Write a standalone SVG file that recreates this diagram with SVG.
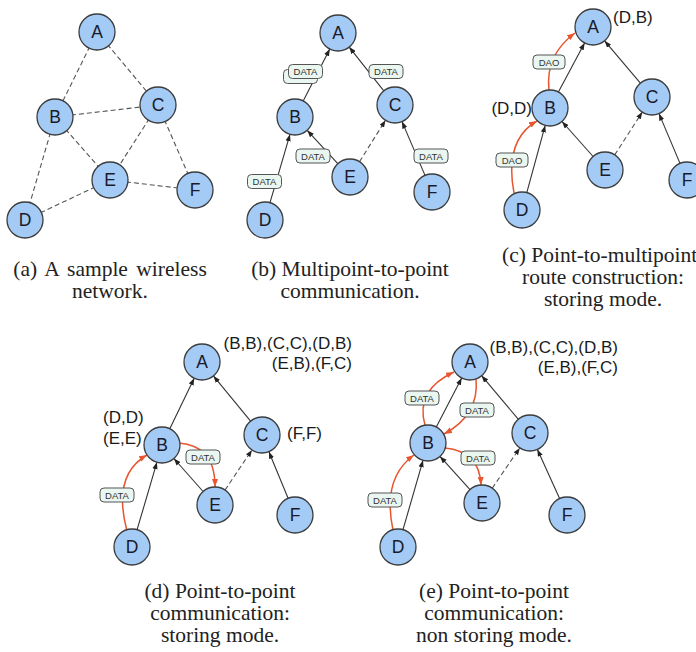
<svg xmlns="http://www.w3.org/2000/svg" width="696" height="652" viewBox="0 0 696 652">
<defs>
<marker id="ah" viewBox="0 0 8 6" refX="8" refY="3" markerWidth="7" markerHeight="5.5" markerUnits="userSpaceOnUse" orient="auto"><path d="M0,0 L8,3 L0,6 z" fill="#222"/></marker>
<marker id="ahr" viewBox="0 0 8 6" refX="8" refY="3" markerWidth="8" markerHeight="6.5" markerUnits="userSpaceOnUse" orient="auto"><path d="M0,0 L8,3 L0,6 z" fill="#e8552f"/></marker>
</defs>
<style>
.n circle{fill:#a3cbf5;stroke:#3c3c3c;stroke-width:1.3}
.n text{font-family:"Liberation Sans",Arial,sans-serif;font-size:17.5px;fill:#1a1a2a;text-anchor:middle}
.ea{stroke:#333;stroke-width:1.1;fill:none;marker-end:url(#ah)}
.d{stroke:#555;stroke-width:1.1;fill:none;stroke-dasharray:5,3}
.da{stroke:#555;stroke-width:1.1;fill:none;stroke-dasharray:5,3;marker-end:url(#ah)}
.r{stroke:#e8552f;stroke-width:1.5;fill:none;marker-end:url(#ahr)}
.box rect{fill:#eaf6f0;stroke:#555;stroke-width:1}
.box text{font-family:"Liberation Sans",Arial,sans-serif;font-size:9.5px;fill:#333;text-anchor:middle}
.lab{font-family:"Liberation Sans",Arial,sans-serif;font-size:17px;fill:#1a1a1a}
.cap{font-family:"Liberation Serif","Times New Roman",serif;font-size:21.5px;fill:#222;text-anchor:middle}
.capl{font-family:"Liberation Serif","Times New Roman",serif;font-size:21.5px;fill:#222;text-anchor:start}
</style>

<!-- Panel (a) -->
<g id="conn-a">
<line class="d" x1="97" y1="32" x2="55" y2="117"/>
<line class="d" x1="97" y1="32" x2="158" y2="105"/>
<line class="d" x1="55" y1="117" x2="158" y2="105"/>
<line class="d" x1="55" y1="117" x2="110" y2="180"/>
<line class="d" x1="55" y1="117" x2="25" y2="220"/>
<line class="d" x1="158" y1="105" x2="110" y2="180"/>
<line class="d" x1="158" y1="105" x2="195" y2="190"/>
<line class="d" x1="110" y1="180" x2="195" y2="190"/>
<line class="d" x1="110" y1="180" x2="25" y2="220"/>
</g>
<g id="a-A" class="n"><circle cx="97" cy="32" r="18"/><text x="97" y="38">A</text></g>
<g id="a-B" class="n"><circle cx="55" cy="117" r="18"/><text x="55" y="123">B</text></g>
<g id="a-C" class="n"><circle cx="158" cy="105" r="18"/><text x="158" y="111">C</text></g>
<g id="a-E" class="n"><circle cx="110" cy="180" r="18"/><text x="110" y="186">E</text></g>
<g id="a-F" class="n"><circle cx="195" cy="190" r="18"/><text x="195" y="196">F</text></g>
<g id="a-D" class="n"><circle cx="25" cy="220" r="18"/><text x="25" y="226">D</text></g>

<!-- Panel (b) -->
<g id="conn-b">
<line class="ea" x1="303.2" y1="101" x2="329.8" y2="49"/>
<line class="ea" x1="383.8" y1="90.9" x2="349.2" y2="47.1"/>
<line class="ea" x1="270" y1="202.7" x2="290" y2="134.3"/>
<line class="ea" x1="337.8" y1="163.7" x2="307.2" y2="130.3"/>
<line class="ea" x1="425" y1="175.4" x2="402" y2="121.6"/>
<line class="da" x1="359.5" y1="161.7" x2="385.5" y2="120.3"/>
</g>
<g id="b-A" class="n"><circle cx="338" cy="33" r="18"/><text x="338" y="39">A</text></g>
<g id="b-B" class="n"><circle cx="295" cy="117" r="18"/><text x="295" y="123">B</text></g>
<g id="b-C" class="n"><circle cx="395" cy="105" r="18"/><text x="395" y="111">C</text></g>
<g id="b-E" class="n"><circle cx="350" cy="177" r="18"/><text x="350" y="183">E</text></g>
<g id="b-F" class="n"><circle cx="432" cy="192" r="18"/><text x="432" y="198">F</text></g>
<g id="b-D" class="n"><circle cx="265" cy="220" r="18"/><text x="265" y="226">D</text></g>
<g id="b-labels">
<g class="box"><rect x="283.5" y="69.5" width="34" height="14" rx="4"/></g>
<g class="box"><rect x="288.5" y="64.5" width="34" height="14" rx="4"/><text x="305.5" y="75">DATA</text></g>
<g class="box"><rect x="369" y="64.5" width="34" height="14" rx="4"/><text x="386" y="75">DATA</text></g>
<g class="box"><rect x="296" y="149" width="34" height="14" rx="4"/><text x="313" y="159.5">DATA</text></g>
<g class="box"><rect x="247.5" y="174.5" width="34" height="14" rx="4"/><text x="264.5" y="185">DATA</text></g>
<g class="box"><rect x="414" y="149" width="34" height="14" rx="4"/><text x="431" y="159.5">DATA</text></g>
</g>

<!-- Panel (c) -->
<g id="conn-c">
<line class="ea" x1="558.4" y1="92.1" x2="584.6" y2="42.9"/>
<line class="ea" x1="640.4" y1="83.2" x2="604.6" y2="40.8"/>
<line class="ea" x1="526.8" y1="192.6" x2="545.2" y2="125.4"/>
<line class="ea" x1="593.1" y1="156.5" x2="562" y2="121.5"/>
<line class="ea" x1="680" y1="163.4" x2="659" y2="113.6"/>
<line class="da" x1="614.7" y1="154.9" x2="642.3" y2="112.1"/>
<path class="r" d="M514,193 Q504,140 537,121"/>
<path class="r" d="M549,90 Q545,55 575,33"/>
</g>
<g id="c-A" class="n"><circle cx="593" cy="27" r="18"/><text x="593" y="33">A</text></g>
<g id="c-B" class="n"><circle cx="550" cy="108" r="18"/><text x="550" y="114">B</text></g>
<g id="c-C" class="n"><circle cx="652" cy="97" r="18"/><text x="652" y="103">C</text></g>
<g id="c-E" class="n"><circle cx="605" cy="170" r="18"/><text x="605" y="176">E</text></g>
<g id="c-F" class="n"><circle cx="687" cy="180" r="18"/><text x="687" y="186">F</text></g>
<g id="c-D" class="n"><circle cx="522" cy="210" r="18"/><text x="522" y="216">D</text></g>
<g id="c-labels">
<g class="box"><rect x="533" y="55" width="32" height="14" rx="4"/><text x="549" y="65.5">DAO</text></g>
<g class="box"><rect x="496" y="153" width="32" height="14" rx="4"/><text x="512" y="163.5">DAO</text></g>
<text class="lab" x="613" y="23">(D,B)</text>
<text class="lab" x="532" y="114" text-anchor="end">(D,D)</text>
</g>

<!-- Panel (d) -->
<g id="conn-d">
<line class="ea" x1="169.8" y1="428.8" x2="194.2" y2="378.2"/>
<line class="ea" x1="250.6" y1="421.1" x2="213.4" y2="375.9"/>
<line class="ea" x1="137.1" y1="529.7" x2="156.9" y2="462.3"/>
<line class="ea" x1="203.1" y1="491.5" x2="173.9" y2="458.5"/>
<line class="ea" x1="288.1" y1="498.3" x2="268.9" y2="451.7"/>
<line class="da" x1="225" y1="490.1" x2="252" y2="449.9"/>
<path class="r" d="M127,531 Q112,475 147,455"/>
<path class="r" d="M179,443 C200,445 215,455 215,487"/>
</g>
<g id="d-A" class="n"><circle cx="202" cy="362" r="18"/><text x="202" y="368">A</text></g>
<g id="d-B" class="n"><circle cx="162" cy="445" r="18"/><text x="162" y="451">B</text></g>
<g id="d-C" class="n"><circle cx="262" cy="435" r="18"/><text x="262" y="441">C</text></g>
<g id="d-E" class="n"><circle cx="215" cy="505" r="18"/><text x="215" y="511">E</text></g>
<g id="d-F" class="n"><circle cx="295" cy="515" r="18"/><text x="295" y="521">F</text></g>
<g id="d-D" class="n"><circle cx="132" cy="547" r="18"/><text x="132" y="553">D</text></g>
<g id="d-labels">
<g class="box"><rect x="186" y="450" width="34" height="14" rx="4"/><text x="203" y="460.5">DATA</text></g>
<g class="box"><rect x="100" y="488" width="34" height="14" rx="4"/><text x="117" y="498.5">DATA</text></g>
<text class="lab" x="352" y="349" text-anchor="end">(B,B),(C,C),(D,B)</text>
<text class="lab" x="352" y="369" text-anchor="end">(E,B),(F,C)</text>
<text class="lab" x="103" y="423">(D,D)</text>
<text class="lab" x="103" y="444">(E,E)</text>
<text class="lab" x="287" y="439">(F,F)</text>
</g>

<!-- Panel (e) -->
<g id="conn-e">
<line class="ea" x1="436.3" y1="427" x2="461.7" y2="378"/>
<line class="ea" x1="518.4" y1="419.3" x2="481.6" y2="375.7"/>
<line class="ea" x1="403" y1="529.7" x2="423" y2="460.3"/>
<line class="ea" x1="470" y1="489.6" x2="440" y2="456.4"/>
<line class="ea" x1="559.6" y1="498.6" x2="537.4" y2="449.4"/>
<line class="da" x1="492.2" y1="488.2" x2="519.8" y2="447.9"/>
<path class="r" d="M393,530 Q382,478 414,455"/>
<path class="r" d="M425,425 Q415,390 454,372"/>
<path class="r" d="M476,379 C478,400 470,420 444,434"/>
<path class="r" d="M445,448 C465,450 480,460 481,485"/>
</g>
<g id="e-A" class="n"><circle cx="470" cy="362" r="18"/><text x="470" y="368">A</text></g>
<g id="e-B" class="n"><circle cx="428" cy="443" r="18"/><text x="428" y="449">B</text></g>
<g id="e-C" class="n"><circle cx="530" cy="433" r="18"/><text x="530" y="439">C</text></g>
<g id="e-E" class="n"><circle cx="482" cy="503" r="18"/><text x="482" y="509">E</text></g>
<g id="e-F" class="n"><circle cx="567" cy="515" r="18"/><text x="567" y="521">F</text></g>
<g id="e-D" class="n"><circle cx="398" cy="547" r="18"/><text x="398" y="553">D</text></g>
<g id="e-labels">
<g class="box"><rect x="405" y="391" width="34" height="14" rx="4"/><text x="422" y="401.5">DATA</text></g>
<g class="box"><rect x="460" y="403" width="34" height="14" rx="4"/><text x="477" y="413.5">DATA</text></g>
<g class="box"><rect x="461" y="451" width="34" height="14" rx="4"/><text x="478" y="461.5">DATA</text></g>
<g class="box"><rect x="368" y="493" width="34" height="14" rx="4"/><text x="385" y="503.5">DATA</text></g>
<text class="lab" x="618" y="353" text-anchor="end">(B,B),(C,C),(D,B)</text>
<text class="lab" x="618" y="373" text-anchor="end">(E,B),(F,C)</text>
</g>

<!-- Captions -->
<g id="captions">
<text class="cap" x="110" y="276" word-spacing="3">(a) A sample wireless</text>
<text class="cap" x="110" y="298">network.</text>
<text class="cap" x="350" y="276">(b) Multipoint-to-point</text>
<text class="cap" x="350" y="298">communication.</text>
<text class="capl" x="502" y="262">(c) Point-to-multipoint</text>
<text class="cap" x="603" y="284">route construction:</text>
<text class="cap" x="603" y="306">storing mode.</text>
<text class="cap" x="220" y="598">(d) Point-to-point</text>
<text class="cap" x="220" y="620">communication:</text>
<text class="cap" x="220" y="642">storing mode.</text>
<text class="cap" x="494" y="598">(e) Point-to-point</text>
<text class="cap" x="494" y="620">communication:</text>
<text class="cap" x="494" y="642">non storing mode.</text>
</g>
</svg>
